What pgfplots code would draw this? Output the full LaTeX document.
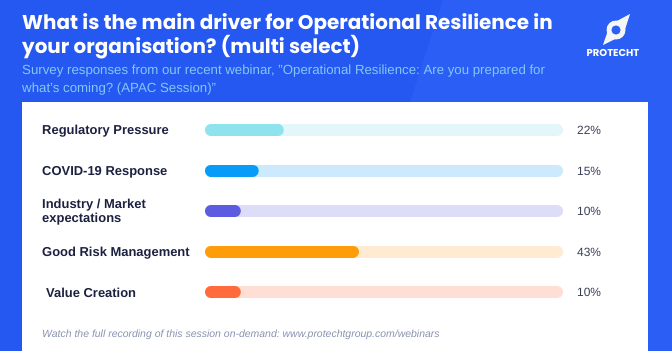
\documentclass[border=0pt]{standalone}
\usepackage{pgfplots}
\pgfplotsset{compat=1.18}
\usepackage{fontspec}
\setmainfont{Liberation Sans}
\newfontfamily\poppins{Poppins}
\frenchspacing
\definecolor{bgblue}{HTML}{2558F0}
\definecolor{bgblue2}{HTML}{2B5EF4}
\definecolor{subblue}{HTML}{82C8F6}
\definecolor{navy}{HTML}{1C2140}
\definecolor{pct}{HTML}{3A4058}
\definecolor{foot}{HTML}{8A93B0}
\definecolor{cA}{HTML}{8EE3EF}\definecolor{tA}{HTML}{E3F7FA}
\definecolor{cB}{HTML}{079CF7}\definecolor{tB}{HTML}{CDE9FC}
\definecolor{cC}{HTML}{5C5CE0}\definecolor{tC}{HTML}{DDDDF8}
\definecolor{cD}{HTML}{FF9C0A}\definecolor{tD}{HTML}{FFEBD1}
\definecolor{cE}{HTML}{FF6B3D}\definecolor{tE}{HTML}{FFDED6}
\begin{document}
\begin{tikzpicture}
\useasboundingbox (0,0) rectangle (672bp,-351bp);
\begin{scope}[x=1bp,y=-1bp]
% background
\fill[bgblue] (0,0) rectangle (672,351);
\fill[bgblue2] (443,0) -- (672,0) -- (672,351) -- (330,351) -- cycle;
\fill[white] (22,102) rectangle (648,358);
% title
\node[anchor=west, text=white, font=\poppins\bfseries\fontsize{20}{24}\selectfont, inner sep=0pt] at (22,24) {What is the main driver for Operational Resilience in};
\node[anchor=west, text=white, font=\poppins\bfseries\fontsize{20}{24}\selectfont, inner sep=0pt] at (22,47) {your organisation? (multi select)};
\node[anchor=west, text=subblue, font=\fontsize{13.3}{15}\selectfont, inner sep=0pt] at (22,71) {Survey responses from our recent webinar, "Operational Resilience: Are you prepared for};
\node[anchor=west, text=subblue, font=\fontsize{13.3}{15}\selectfont, inner sep=0pt] at (22,89) {what's coming? (APAC Session)"};
% logo
\fill[white!92!gray] (616,30) circle (9.5);
\fill[white!92!gray] (603,45) -- (608.5,29) -- (615,39) -- cycle;
\fill[white!92!gray] (630,14) -- (624.5,31) -- (617,21) -- cycle;
\fill[bgblue2] (616,30) circle (4.6);
\node[text=white, font=\poppins\bfseries\fontsize{10}{12}\selectfont, inner sep=0pt] at (613,53) {PROTECHT};
% category labels
\begin{scope}[every node/.style={anchor=west, text=navy, font=\bfseries\fontsize{13}{14}\selectfont, inner sep=0pt}]
\node at (42,131) {Regulatory Pressure};
\node at (42,172) {COVID-19 Response};
\node[align=left] at (42,212) {Industry / Market\\expectations};
\node at (42,253) {Good Risk Management};
\node at (46,293) {Value Creation};
\end{scope}
\begin{scope}[every node/.style={anchor=west, text=pct, font=\fontsize{12}{14}\selectfont, inner sep=0pt}]
\node at (577,130.5) {22\%};
\node at (577,171.5) {15\%};
\node at (577,211.5) {10\%};
\node at (577,252.5) {43\%};
\node at (577,292.5) {10\%};
\end{scope}
\node[anchor=west, text=foot, font=\itshape\fontsize{10.5}{12}\selectfont, inner sep=0pt] at (42,335) {Watch the full recording of this session on-demand: www.protechtgroup.com/webinars};
\end{scope}
% chart
\begin{axis}[at={(205bp,-109.75bp)}, anchor=north west, width=358bp, height=202.5bp,
  scale only axis, xmin=0, xmax=100, ymin=-0.5, ymax=4.5, y dir=reverse,
  hide axis, clip=false,
  every axis plot/.append style={line width=12bp, line cap=round, shorten <=6bp, shorten >=6bp}]
\addplot[tA] coordinates {(0,0) (100,0)};
\addplot[cA] coordinates {(0,0) (22,0)};
\addplot[tB] coordinates {(0,1) (100,1)};
\addplot[cB] coordinates {(0,1) (15,1)};
\addplot[tC] coordinates {(0,2) (100,2)};
\addplot[cC] coordinates {(0,2) (10,2)};
\addplot[tD] coordinates {(0,3) (100,3)};
\addplot[cD] coordinates {(0,3) (43,3)};
\addplot[tE] coordinates {(0,4) (100,4)};
\addplot[cE] coordinates {(0,4) (10,4)};
\end{axis}
\end{tikzpicture}
\end{document}
